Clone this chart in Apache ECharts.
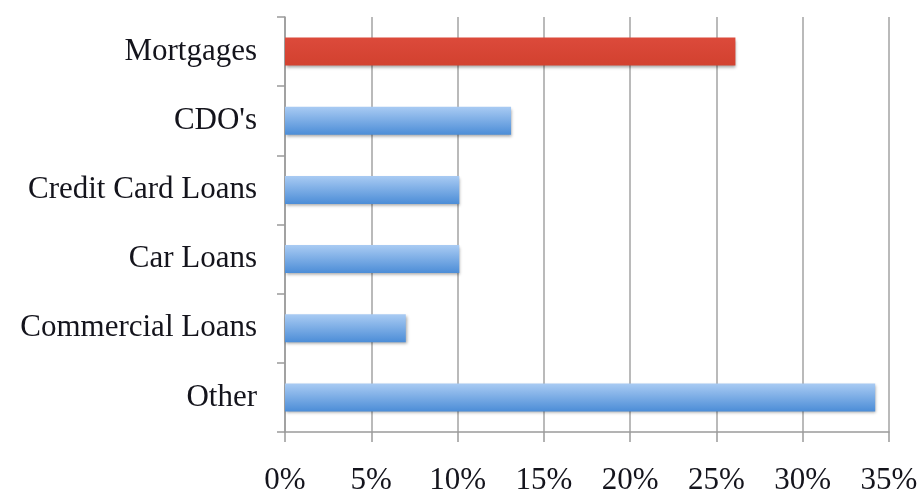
<!DOCTYPE html>
<html>
<head>
<meta charset="utf-8">
<script src="https://cdn.jsdelivr.net/npm/echarts@6/dist/echarts.min.js"></script>
<style>
  html, body { margin: 0; padding: 0; background: #fff; overflow: hidden; }
  #chart { width: 921px; height: 496px; }
</style>
</head>
<body>
<div id="chart"></div>
<script>
// Share of losses by asset type (percent)
var categories = ['Mortgages', "CDO's", 'Credit Card Loans', 'Car Loans', 'Commercial Loans', 'Other'];
var shares = [26.1, 13.1, 10.1, 10.1, 7.0, 34.2];
var highlighted = 'Mortgages';

var blueFill = new echarts.graphic.LinearGradient(0, 0, 0, 1, [
  { offset: 0, color: '#a9cbf3' },
  { offset: 1, color: '#4c8dd7' }
]);
var redFill = new echarts.graphic.LinearGradient(0, 0, 0, 1, [
  { offset: 0, color: '#dc4a3b' },
  { offset: 1, color: '#d2412f' }
]);

var barData = categories.map(function (name, i) {
  return {
    value: shares[i],
    itemStyle: { color: name === highlighted ? redFill : blueFill }
  };
});

var chart = echarts.init(document.getElementById('chart'), null, { renderer: 'canvas' });
chart.setOption({
  animation: false,
  backgroundColor: '#ffffff',
  textStyle: { fontFamily: 'Liberation Serif' },
  grid: { left: 285, right: 32, top: 17, bottom: 59 },
  xAxis: {
    type: 'value',
    min: 0,
    max: 35,
    interval: 5,
    axisLine: { show: true, lineStyle: { color: '#9a9a9a', width: 1.5 } },
    axisTick: { show: true, length: 10, lineStyle: { color: '#9a9a9a', width: 1.5 } },
    splitLine: { show: true, lineStyle: { color: '#a3a3a3', width: 1.5 } },
    axisLabel: {
      formatter: '{value}%',
      color: '#14141c',
      fontSize: 31,
      fontFamily: 'Liberation Serif',
      margin: 33
    }
  },
  yAxis: {
    type: 'category',
    data: categories,
    inverse: true,
    axisLine: { show: true, lineStyle: { color: '#9a9a9a', width: 1.5 } },
    axisTick: { show: true, length: 8, lineStyle: { color: '#9a9a9a', width: 1.5 } },
    splitLine: { show: false },
    axisLabel: {
      color: '#14141c',
      fontSize: 31,
      fontFamily: 'Liberation Serif',
      margin: 28
    }
  },
  series: [{
    type: 'bar',
    data: barData,
    barWidth: 28,
    itemStyle: {
      shadowColor: 'rgba(0,0,0,0.35)',
      shadowBlur: 3,
      shadowOffsetX: 1,
      shadowOffsetY: 2
    }
  }]
});
</script>
</body>
</html>
